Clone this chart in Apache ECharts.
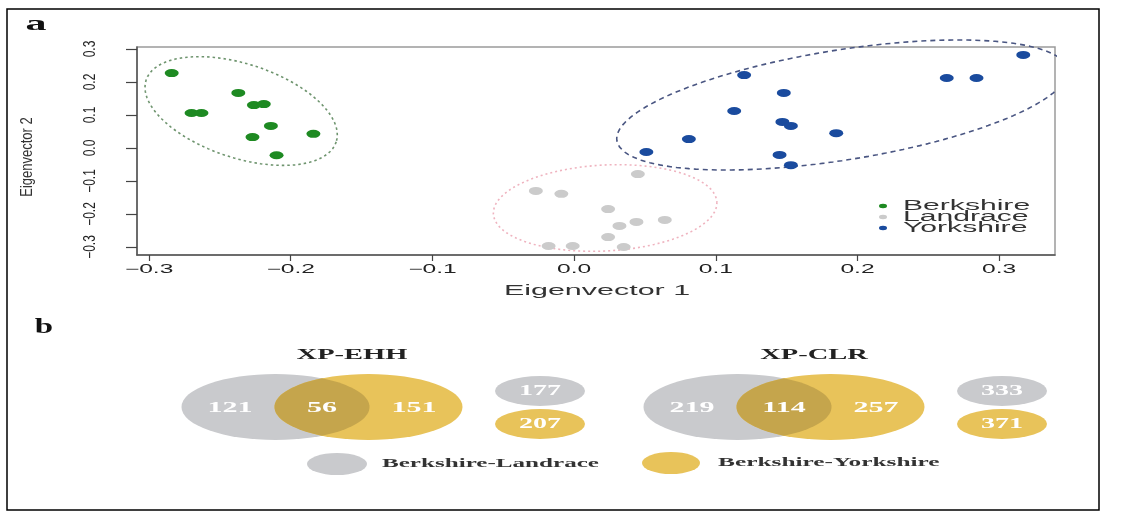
<!DOCTYPE html>
<html><head><meta charset="utf-8">
<script src="https://cdn.jsdelivr.net/npm/echarts@6/dist/echarts.min.js"></script>
<style>html,body{margin:0;padding:0;background:#fff}#c{width:1123px;height:513px}</style>
</head><body><div id="c"></div>
<script>
// ---------------- data ----------------
const breeds = ['Berkshire', 'Landrace', 'Yorkshire'];
const berkshireX = [-0.284, -0.270, -0.263, -0.237, -0.226, -0.219, -0.214, -0.227, -0.184, -0.210];
const berkshireY = [0.227, 0.106, 0.106, 0.167, 0.130, 0.133, 0.067, 0.033, 0.043, -0.022];
const landraceX = [-0.027, -0.009, 0.045, 0.024, 0.044, 0.032, 0.064, 0.024, -0.018, -0.001, 0.035];
const landraceY = [-0.130, -0.139, -0.079, -0.185, -0.224, -0.236, -0.218, -0.270, -0.297, -0.297, -0.300];
const yorkshireX = [0.120, 0.113, 0.081, 0.051, 0.317, 0.263, 0.284, 0.148, 0.147, 0.153, 0.185, 0.145, 0.153];
const yorkshireY = [0.221, 0.112, 0.027, -0.012, 0.282, 0.212, 0.212, 0.167, 0.079, 0.067, 0.045, -0.021, -0.052];
// group ellipses: [centerX, centerY, axis1X, axis1Y, axis2X, axis2Y] (data units)
const berkshireEllipse = [-0.235, 0.112, 0.0671, -0.0936, -0.0102, -0.1355];
const landraceEllipse = [0.0219, -0.1818, 0.0789, 0.0179, 0.0016, -0.130];
const yorkshireEllipse = [0.1891, 0.1303, 0.1589, 0.1082, 0.0061, -0.1646];
const xTicks = [-0.3, -0.2, -0.1, 0.0, 0.1, 0.2, 0.3];
const xTickLabels = ['\u22120.3', '\u22120.2', '\u22120.1', '0.0', '0.1', '0.2', '0.3'];
const yTicks = [-0.3, -0.2, -0.1, 0.0, 0.1, 0.2, 0.3];
const yTickLabels = ['\u22120.3', '\u22120.2', '\u22120.1', '0.0', '0.1', '0.2', '0.3'];
const xRange = [-0.3085, 0.3394];
const yRange = [-0.3242, 0.306];

const vennMethods = ['XP-EHH', 'XP-CLR'];
const onlyLandrace = [121, 219];
const sharedBoth = [56, 114];
const onlyYorkshire = [151, 257];
const totalLandrace = [177, 333];
const totalYorkshire = [207, 371];
const vennLegend = ['Berkshire-Landrace', 'Berkshire-Yorkshire'];

// ---------------- layout / style ----------------
const C = { green: '#1e8a22', gray: '#cbcbcb', blue: '#1a4b9e',
  greenLine: '#6e946e', pinkLine: '#efb3bf', blueLine: '#4a5682',
  vGray: '#c9cacd', vYellow: '#e8c35a', vOver: '#c5a54c' };
const V = { dx: 46.5, rx: 94, ry: 33, y: 407, labDx: 92, labY: 408, titleDx: 30, titleY: 355,
  sDx: 218, sRx: 45, sRy: 15, sY1: 391, sY2: 424 };
const SANS = '"Liberation Sans", Arial, sans-serif';
const SERIF = '"Liberation Serif", "Times New Roman", serif';

function ellipsePath(p) {
  const pts = [];
  for (let i = 0; i <= 160; i++) {
    const t = i / 160 * 2 * Math.PI;
    pts.push([p[0] + Math.cos(t) * p[2] + Math.sin(t) * p[4], p[1] + Math.cos(t) * p[3] + Math.sin(t) * p[5]]);
  }
  return pts;
}
const zip = (a, b) => a.map((v, i) => [v, b[i]]);

function txt(s, x, y, o) {
  return { type: 'text', x: x, y: y, rotation: o.rot || 0, scaleX: o.sx || 1, scaleY: o.sy || 1, silent: true, z: 50,
    style: { text: s, x: 0, y: 0, fill: o.fill || '#222', fontSize: o.size, fontFamily: o.family || SANS,
      fontWeight: o.weight || 'normal', textAlign: o.align || 'center', textVerticalAlign: 'middle' } };
}
function ell(cx, cy, rx, ry, fill, z) {
  return { type: 'circle', x: cx, y: cy, scaleX: rx / ry, scaleY: 1, silent: true, z: z || 5,
    shape: { cx: 0, cy: 0, r: ry }, style: { fill: fill } };
}

const chart = echarts.init(document.getElementById('c'));

const ellipseLine = (name, p, color, dash) => ({
  type: 'line', name: name, xAxisIndex: 0, yAxisIndex: 0, data: ellipsePath(p), showSymbol: false,
  symbol: 'none', clip: false, silent: true, z: 1,
  lineStyle: { color: color, width: 1.6, type: dash }
});
const pts = (name, xs, ys, color) => ({
  type: 'scatter', name: name, xAxisIndex: 0, yAxisIndex: 0, data: zip(xs, ys), symbol: 'circle',
  symbolSize: [14, 8], itemStyle: { color: color, opacity: 1 }, z: 3
});

function vennItem(params, api) {
  const i = params.dataIndex;
  const cx = api.coord([api.value(0), 0])[0];
  const ax = cx - V.dx, bx = cx + V.dx, rx = V.rx, ry = V.ry, cy = V.y;
  const phi = Math.acos((bx - ax) / (2 * rx));
  const lens = [];
  for (let k = 0; k <= 40; k++) { const t = -phi + 2 * phi * k / 40; lens.push([ax + rx * Math.cos(t), cy + ry * Math.sin(t)]); }
  for (let k = 0; k <= 40; k++) { const t = Math.PI - phi + 2 * phi * k / 40; lens.push([bx + rx * Math.cos(t), cy + ry * Math.sin(t)]); }
  const num = (s, x, y, size, sx) => txt(String(s), x, y, { size: size, sx: sx, fill: '#ffffff', family: SERIF, weight: 'bold' });
  return { type: 'group', children: [
    ell(ax, cy, rx, ry, C.vGray, 5),
    ell(bx, cy, rx, ry, C.vYellow, 6),
    { type: 'polygon', shape: { points: lens }, style: { fill: C.vOver }, z: 7, silent: true },
    ell(cx + V.sDx, V.sY1, V.sRx, V.sRy, C.vGray, 5),
    ell(cx + V.sDx, V.sY2, V.sRx, V.sRy, C.vYellow, 5),
    num(onlyLandrace[i], cx - V.labDx, V.labY, 15, 2.0),
    num(sharedBoth[i], cx, V.labY, 15, 2.0),
    num(onlyYorkshire[i], cx + V.labDx, V.labY, 15, 2.0),
    num(totalLandrace[i], cx + V.sDx, V.sY1, 14, 2.0),
    num(totalYorkshire[i], cx + V.sDx, V.sY2, 14, 2.0),
    txt(vennMethods[i], cx + V.titleDx, V.titleY, { size: 15, sx: 1.9, family: SERIF, weight: 'bold', fill: '#222' })
  ] };
}

const option = {
  animation: false,
  backgroundColor: '#ffffff',
  grid: [
    { left: 137, top: 47, width: 918, height: 208, show: true, borderColor: '#9a9a9a', borderWidth: 1.5, backgroundColor: 'transparent' },
    { left: 91, top: 340, width: 924, height: 140, show: false }
  ],
  xAxis: [
    { gridIndex: 0, type: 'value', min: xRange[0], max: xRange[1],
      axisLine: { show: true, onZero: false, lineStyle: { color: '#555', width: 1.5 } },
      axisTick: { show: true, customValues: xTicks, length: 6, lineStyle: { color: '#444', width: 1.2 } },
      axisLabel: { show: false }, splitLine: { show: false } },
    { gridIndex: 1, type: 'category', data: vennMethods, show: false }
  ],
  yAxis: [
    { gridIndex: 0, type: 'value', min: yRange[0], max: yRange[1],
      axisLine: { show: true, onZero: false, lineStyle: { color: '#555', width: 1.5 } },
      axisTick: { show: true, customValues: yTicks, length: 11, lineStyle: { color: '#444', width: 1.2 } },
      axisLabel: { show: false }, splitLine: { show: false } },
    { gridIndex: 1, type: 'value', min: 0, max: 1, show: false }
  ],
  series: [
    ellipseLine('Berkshire ellipse', berkshireEllipse, C.greenLine, [2.5, 3]),
    ellipseLine('Landrace ellipse', landraceEllipse, C.pinkLine, [2, 3]),
    ellipseLine('Yorkshire ellipse', yorkshireEllipse, C.blueLine, [5, 4]),
    pts(breeds[0], berkshireX, berkshireY, C.green),
    pts(breeds[1], landraceX, landraceY, C.gray),
    pts(breeds[2], yorkshireX, yorkshireY, C.blue),
    { type: 'custom', name: 'venn', xAxisIndex: 1, yAxisIndex: 1, data: vennMethods.map((m, i) => [i, 0.5]),
      renderItem: vennItem, silent: true, clip: false }
  ]
};
chart.setOption(option);

// ---------- texts placed through the axes' scales ----------
const px = v => chart.convertToPixel({ xAxisIndex: 0 }, v);
const py = v => chart.convertToPixel({ yAxisIndex: 0 }, v);
const g = [];
g.push({ type: 'rect', shape: { x: 7, y: 9, width: 1092, height: 501 }, style: { fill: 'none', stroke: '#000', lineWidth: 1.5 }, silent: true, z: 60 });
const bottom = py(yRange[0]), left = px(xRange[0]);
xTicks.forEach((v, i) => g.push(txt(xTickLabels[i], px(v), bottom + 15, { size: 12, sx: 2.05, fill: '#222' })));
yTicks.forEach((v, i) => g.push(txt(yTickLabels[i], left - 46, py(v), { size: 12, rot: Math.PI / 2, sy: 1.3, fill: '#222' })));
g.push(txt('Eigenvector 1', (px(xRange[0]) + px(xRange[1])) / 2 + 1, bottom + 36, { size: 15, sx: 2.03, fill: '#333' }));
g.push(txt('Eigenvector 2', 28, (py(yRange[0]) + py(yRange[1])) / 2 + 6, { size: 13, rot: Math.PI / 2, sy: 1.2, fill: '#333' }));
// legend of panel a
const legColors = [C.green, C.gray, C.blue];
breeds.forEach((b, i) => {
  const y = 206 + i * 11;
  g.push(ell(883, y, 4, 2.2, legColors[i], 40));
  g.push(txt(b, 903, y, { size: 14, sx: 2.15, align: 'left', fill: '#333' }));
});
// panel labels
g.push(txt('a', 36, 25, { size: 21, sx: 2.0, family: SERIF, weight: 'bold', fill: '#111' }));
g.push(txt('b', 44, 327, { size: 22, sx: 1.5, family: SERIF, weight: 'bold', fill: '#111' }));
// legend of panel b
g.push(ell(337, 464, 30, 11, C.vGray, 5));
g.push(txt(vennLegend[0], 382, 464, { size: 13, sx: 1.93, family: SERIF, weight: 'bold', align: 'left', fill: '#333' }));
g.push(ell(671, 463, 29, 11, C.vYellow, 5));
g.push(txt(vennLegend[1], 718, 463, { size: 13, sx: 1.95, family: SERIF, weight: 'bold', align: 'left', fill: '#333' }));
chart.setOption({ graphic: g });
</script></body></html>
